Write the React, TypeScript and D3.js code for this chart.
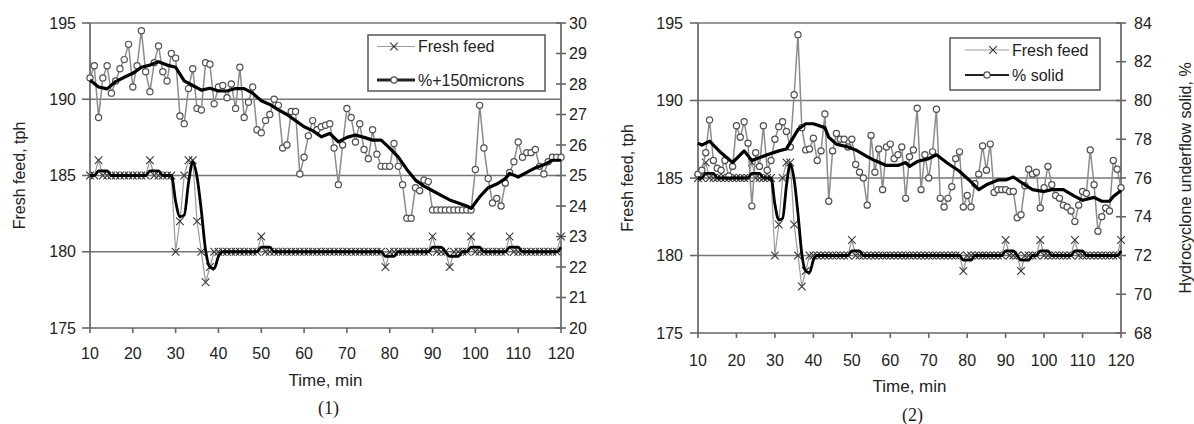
import React from "react";
import * as d3 from "d3";

// ---------- data ----------
const time = d3.range(10, 121); // minutes 10..120, one sample per minute

const freshFeed = [
  185, 185, 186, 185, 185, 185, 185, 185, 185, 185,
  185, 185, 185, 185, 186, 185, 185, 185, 185, 185,
  180, 182, 185, 186, 186, 182, 180, 178, 179, 180,
  180, 180, 180, 180, 180, 180, 180, 180, 180, 180,
  181, 180, 180, 180, 180, 180, 180, 180, 180, 180,
  180, 180, 180, 180, 180, 180, 180, 180, 180, 180,
  180, 180, 180, 180, 180, 180, 180, 180, 180, 179,
  180, 180, 180, 180, 180, 180, 180, 180, 180, 180,
  181, 180, 180, 180, 179, 180, 180, 180, 180, 181,
  180, 180, 180, 180, 180, 180, 180, 180, 181, 180,
  180, 180, 180, 180, 180, 180, 180, 180, 180, 180,
  181,
];

const freshFeedTrend = [
  185, 185, 185.3, 185.3, 185.3, 185, 185, 185, 185, 185,
  185, 185, 185, 185, 185.3, 185.3, 185.3, 185, 185, 185,
  183.3, 182.3, 182.4, 184.5, 185.9, 184.9, 182.7, 180.1, 179.0, 178.9,
  179.7, 180, 180, 180, 180, 180, 180, 180, 180, 180,
  180.3, 180.3, 180.3, 180, 180, 180, 180, 180, 180, 180,
  180, 180, 180, 180, 180, 180, 180, 180, 180, 180,
  180, 180, 180, 180, 180, 180, 180, 180, 180, 179.7,
  179.7, 179.7, 180, 180, 180, 180, 180, 180, 180, 180,
  180.3, 180.3, 180.3, 180, 179.7, 179.7, 179.7, 180, 180, 180.3,
  180.3, 180.3, 180, 180, 180, 180, 180, 180, 180.3, 180.3,
  180.3, 180, 180, 180, 180, 180, 180, 180, 180, 180,
  180.3,
];

const plus150 = [
  28.2, 28.6, 26.9, 28.2, 28.6, 27.7, 28.1, 28.5, 28.8, 29.3,
  27.9, 28.6, 29.75, 28.4, 27.75, 28.7, 29.25, 28.4, 28.1, 29.0,
  28.85, 26.95, 26.7, 27.85, 28.5, 27.2, 27.15, 28.7, 28.65, 27.35,
  27.9, 27.95, 27.55, 28.0, 27.2, 28.55, 26.9, 27.4, 27.9, 26.5,
  26.4, 26.8, 27.0, 27.5, 27.3, 25.9, 26.0, 27.1, 27.1, 25.05,
  25.6, 26.3, 26.8, 26.5, 26.6, 26.65, 26.7, 25.9, 24.7, 26.0,
  27.2, 26.9, 26.1, 26.7, 25.85, 25.55, 26.5, 25.7, 25.3, 25.3,
  25.3, 26.05, 25.3, 24.7, 23.6, 23.6, 24.6, 24.5, 24.85, 24.8,
  23.87, 23.87, 23.87, 23.87, 23.87, 23.87, 23.87, 23.87, 23.87, 23.87,
  25.2, 27.3, 25.9, 24.9, 24.1, 24.25, 24.0, 24.75, 25.1, 25.45,
  26.1, 25.6, 25.75, 25.75, 25.85, 25.3, 25.05, 25.45, 25.6, 25.6,
  25.6,
];

const plus150TrendTime = [
  10, 12, 14, 16, 18, 20, 22, 24, 26, 28, 30, 32, 34, 36, 38, 40, 42, 44, 46, 48,
  50, 52, 54, 56, 58, 60, 62, 64, 66, 68, 70, 72, 74, 76, 78, 80, 82, 84, 86, 88,
  90, 92, 94, 96, 98, 99, 101, 103, 105, 107, 108, 110, 112, 114, 116, 118, 120,
];
const plus150TrendValue = [
  28.13, 27.9, 27.84, 28.08, 28.22, 28.35, 28.55, 28.62, 28.73, 28.62,
  28.55, 28.1, 27.95, 27.8, 27.86, 27.77, 27.77, 27.85, 27.85, 27.7,
  27.45, 27.33, 27.15, 27.0, 26.8, 26.6, 26.47, 26.27, 26.38, 26.1,
  26.25, 26.33, 26.25, 26.16, 26.16, 25.9, 25.6, 25.2, 24.85, 24.65,
  24.5, 24.35, 24.2, 24.1, 24.0, 23.92, 24.3, 24.6, 24.72, 24.9,
  25.07, 24.95, 25.1, 25.25, 25.35, 25.5, 25.5,
];

const solid = [
  76.2, 76.4, 77.3, 79.0, 76.9, 76.5, 76.4, 76.9, 76.1, 76.6,
  78.7, 78.1, 78.9, 77.8, 74.55, 77.3, 76.6, 78.7, 76.4, 76.9,
  78.0, 78.65, 78.9, 78.4, 77.6, 80.3, 83.4, 78.6, 77.45, 77.5,
  78.05, 76.9, 77.4, 79.3, 74.8, 77.4, 78.3, 78.0, 78.0, 77.6,
  78.0, 76.7, 76.3, 76.0, 74.6, 78.2, 76.3, 77.5, 75.4, 77.6,
  77.75, 77.0, 77.2, 77.6, 74.95, 77.1, 77.45, 79.6, 75.4, 77.2,
  76.0, 77.35, 79.55, 74.95, 74.5, 74.95, 75.55, 77.0, 77.35, 74.5,
  75.1, 74.5, 75.7, 76.2, 77.65, 76.4, 77.75, 75.25, 75.4, 75.4,
  75.4, 75.3, 75.3, 73.95, 74.1, 75.6, 76.45, 76.2, 76.3, 74.45,
  75.5, 76.6, 75.65, 75.1, 74.95, 74.6, 74.5, 74.3, 73.75, 74.6,
  75.3, 75.2, 77.45, 75.65, 73.25, 74.0, 74.45, 74.3, 76.9, 76.45,
  75.5,
];

const solidTrendTime = [
  10, 11, 13, 16, 19, 22, 24, 28, 31, 33, 36, 38, 40, 43, 44, 46, 49, 51, 54, 56,
  59, 62, 64, 65, 67, 70, 72, 75, 78, 81, 83, 85, 88, 90, 92, 95, 97, 100, 102, 105,
  108, 110, 113, 115, 117, 118, 120,
];
const solidTrendValue = [
  77.8, 77.7, 77.9, 77.3, 76.8, 77.4, 76.9, 77.2, 77.4, 77.5,
  78.5, 78.8, 78.8, 78.6, 78.1, 77.75, 77.6, 77.45, 77.1, 76.9,
  76.65, 76.65, 76.8, 76.6, 76.85, 77.0, 77.2, 76.75, 76.35, 75.8,
  75.4, 75.65, 75.9, 75.9, 76.05, 75.65, 75.4, 75.3, 75.4, 75.4,
  75.05, 74.85, 75.0, 74.8, 74.8, 75.05, 75.35,
];

const xTicks = [10, 20, 30, 40, 50, 60, 70, 80, 90, 100, 110, 120];
const leftTicks = [175, 180, 185, 190, 195];
const gridTicks = [180, 185, 190, 195];
const rightTicks1 = [20, 21, 22, 23, 24, 25, 26, 27, 28, 29, 30];
const rightTicks2 = [68, 70, 72, 74, 76, 78, 80, 82, 84];

const feedLabel = "Fresh feed";
const leftTitle = "Fresh feed, tph";
const xTitle = "Time, min";

// ---------- styles ----------
const FONT = "'Liberation Sans', Arial, Helvetica, sans-serif";
const SERIF = "'Liberation Serif', 'Times New Roman', serif";
const GRID = "#767676";
const AXIS = "#666";
const TEXT = "#222";

type PanelProps = {
  x0: number; x1: number; y0: number; y1: number;
  rDomain: [number, number]; rTicks: number[];
  values: number[]; trendTime: number[]; trendValue: number[];
  seriesLabel: string; tag: string;
  leftLabelGap: number; rightLabelGap: number;
  tickLabelY: number; titleY: number; tagY: number; leftTitleX: number;
  rightTitle?: string; rightTitleX?: number;
  legend: { x: number; y: number; w: number; h: number; lx0: number; lx1: number; row1: number; row2: number; m1: number; m2: number; tx: number; thick: number };
};

function XMark({ cx, cy }: { cx: number; cy: number }) {
  const s = 3.8;
  return (
    <path
      d={`M${cx - s},${cy - s}L${cx + s},${cy + s}M${cx - s},${cy + s}L${cx + s},${cy - s}`}
      stroke="#333"
      strokeWidth={1.05}
      fill="none"
    />
  );
}

function Panel(p: PanelProps) {
  const x = d3.scaleLinear().domain([10, 120]).range([p.x0, p.x1]);
  const yL = d3.scaleLinear().domain([175, 195]).range([p.y1, p.y0]);
  const yR = d3.scaleLinear().domain(p.rDomain).range([p.y1, p.y0]);

  const feedPts: [number, number][] = time.map((t, i) => [t, freshFeed[i]]);
  const feedTrendPts: [number, number][] = time.map((t, i) => [t, freshFeedTrend[i]]);
  const rawPts: [number, number][] = time.map((t, i) => [t, p.values[i]]);
  const trendPts: [number, number][] = p.trendTime.map((t, i) => [t, p.trendValue[i]]);

  const lineL = d3.line<[number, number]>().x((d) => x(d[0])).y((d) => yL(d[1]));
  const lineLSmooth = d3
    .line<[number, number]>()
    .x((d) => x(d[0]))
    .y((d) => yL(d[1]))
    .curve(d3.curveMonotoneX);
  const lineR = d3.line<[number, number]>().x((d) => x(d[0])).y((d) => yR(d[1]));

  const lg = p.legend;
  const midY = (p.y0 + p.y1) / 2;

  return (
    <g>
      {gridTicks.map((v) => (
        <line key={"g" + v} x1={p.x0} x2={p.x1} y1={yL(v)} y2={yL(v)} stroke={GRID} strokeWidth={1.6} />
      ))}

      <line x1={p.x0} x2={p.x0} y1={p.y0} y2={p.y1} stroke={AXIS} strokeWidth={1.7} />
      <line x1={p.x0} x2={p.x1} y1={p.y1} y2={p.y1} stroke={AXIS} strokeWidth={1.7} />
      <line x1={p.x1} x2={p.x1} y1={p.y0} y2={p.y1} stroke={AXIS} strokeWidth={1.7} />

      {leftTicks.map((v) => (
        <g key={"l" + v}>
          <line x1={p.x0 - 8} x2={p.x0} y1={yL(v)} y2={yL(v)} stroke={AXIS} strokeWidth={1.6} />
          <text x={p.x0 - p.leftLabelGap} y={yL(v)} dy="0.35em" textAnchor="end" fontSize={16} fontFamily={FONT} fill={TEXT}>
            {v}
          </text>
        </g>
      ))}

      {p.rTicks.map((v) => (
        <g key={"r" + v}>
          <line x1={p.x1 - 5} x2={p.x1 + 5} y1={yR(v)} y2={yR(v)} stroke={AXIS} strokeWidth={1.6} />
          <text x={p.x1 + p.rightLabelGap} y={yR(v)} dy="0.35em" textAnchor="start" fontSize={16} fontFamily={FONT} fill={TEXT}>
            {v}
          </text>
        </g>
      ))}

      {xTicks.map((v) => (
        <g key={"x" + v}>
          <line x1={x(v)} x2={x(v)} y1={p.y1} y2={p.y1 + 5} stroke={AXIS} strokeWidth={1.6} />
          <text x={x(v)} y={p.tickLabelY} textAnchor="middle" fontSize={16} fontFamily={FONT} fill={TEXT}>
            {v}
          </text>
        </g>
      ))}

      <path d={lineL(feedPts) || ""} fill="none" stroke="#999" strokeWidth={1.2} />
      {feedPts.map((d, i) => (
        <XMark key={"fx" + i} cx={x(d[0])} cy={yL(d[1])} />
      ))}

      <path d={lineR(rawPts) || ""} fill="none" stroke="#8c8c8c" strokeWidth={1.5} />
      {rawPts.map((d, i) => (
        <circle key={"c" + i} cx={x(d[0])} cy={yR(d[1])} r={3.1} fill="#fff" stroke="#505050" strokeWidth={1.2} />
      ))}

      <path d={lineLSmooth(feedTrendPts) || ""} fill="none" stroke="#000" strokeWidth={2.8} strokeLinejoin="round" />
      <path d={lineR(trendPts) || ""} fill="none" stroke="#000" strokeWidth={3.2} strokeLinejoin="round" />

      <rect x={lg.x} y={lg.y} width={lg.w} height={lg.h} fill="#fff" stroke="#555" strokeWidth={1.5} />
      <line x1={lg.lx0} x2={lg.lx1} y1={lg.row1} y2={lg.row1} stroke="#999" strokeWidth={1.2} />
      <XMark cx={lg.m1} cy={lg.row1} />
      <text x={lg.tx} y={lg.row1} dy="0.35em" fontSize={16} fontFamily={FONT} fill={TEXT}>
        {feedLabel}
      </text>
      <line x1={lg.lx0} x2={lg.lx1} y1={lg.row2} y2={lg.row2} stroke="#222" strokeWidth={lg.thick} />
      <circle cx={lg.m2} cy={lg.row2} r={3.1} fill="#fff" stroke="#505050" strokeWidth={1.2} />
      <text x={lg.tx} y={lg.row2} dy="0.35em" fontSize={16} fontFamily={FONT} fill={TEXT}>
        {p.seriesLabel}
      </text>

      <text x={(p.x0 + p.x1) / 2} y={p.titleY} textAnchor="middle" fontSize={17} fontFamily={FONT} fill={TEXT}>
        {xTitle}
      </text>
      <text
        transform={`translate(${p.leftTitleX},${midY}) rotate(-90)`}
        textAnchor="middle"
        dy="0.35em"
        fontSize={16}
        fontFamily={FONT}
        fill={TEXT}
      >
        {leftTitle}
      </text>
      {p.rightTitle && (
        <text
          transform={`translate(${p.rightTitleX},${midY}) rotate(-90)`}
          textAnchor="middle"
          dy="0.35em"
          fontSize={16}
          fontFamily={FONT}
          fill={TEXT}
        >
          {p.rightTitle}
        </text>
      )}
      <text x={(p.x0 + p.x1) / 2 + 3} y={p.tagY} textAnchor="middle" fontSize={18} fontFamily={SERIF} fill={TEXT}>
        {p.tag}
      </text>
    </g>
  );
}

export default function App() {
  return (
    <svg
      width={1194}
      height={424}
      viewBox="0 0 1194 424"
      style={{ position: "absolute", left: 0, top: 0, background: "#fff" }}
    >
      <rect x={0} y={0} width={1194} height={424} fill="#fff" />
      <Panel
        x0={90} x1={561} y0={23} y1={328}
        rDomain={[20, 30]} rTicks={rightTicks1}
        values={plus150} trendTime={plus150TrendTime} trendValue={plus150TrendValue}
        seriesLabel="%+150microns" tag="(1)"
        leftLabelGap={14} rightLabelGap={8}
        tickLabelY={359} titleY={386} tagY={414} leftTitleX={19}
        legend={{ x: 368, y: 35, w: 177, h: 56, lx0: 377, lx1: 415, row1: 46.5, row2: 80, m1: 394, m2: 394, tx: 418, thick: 3.2 }}
      />
      <Panel
        x0={698} x1={1121} y0={23} y1={333}
        rDomain={[68, 84]} rTicks={rightTicks2}
        values={solid} trendTime={solidTrendTime} trendValue={solidTrendValue}
        seriesLabel="% solid" tag="(2)"
        leftLabelGap={15} rightLabelGap={13}
        tickLabelY={366} titleY={392} tagY={421} leftTitleX={627}
        rightTitle="Hydrocyclone underflow solid, %" rightTitleX={1185}
        legend={{ x: 950, y: 38, w: 150, h: 52, lx0: 965, lx1: 1009, row1: 50, row2: 75, m1: 993, m2: 987, tx: 1012, thick: 2 }}
      />
    </svg>
  );
}
